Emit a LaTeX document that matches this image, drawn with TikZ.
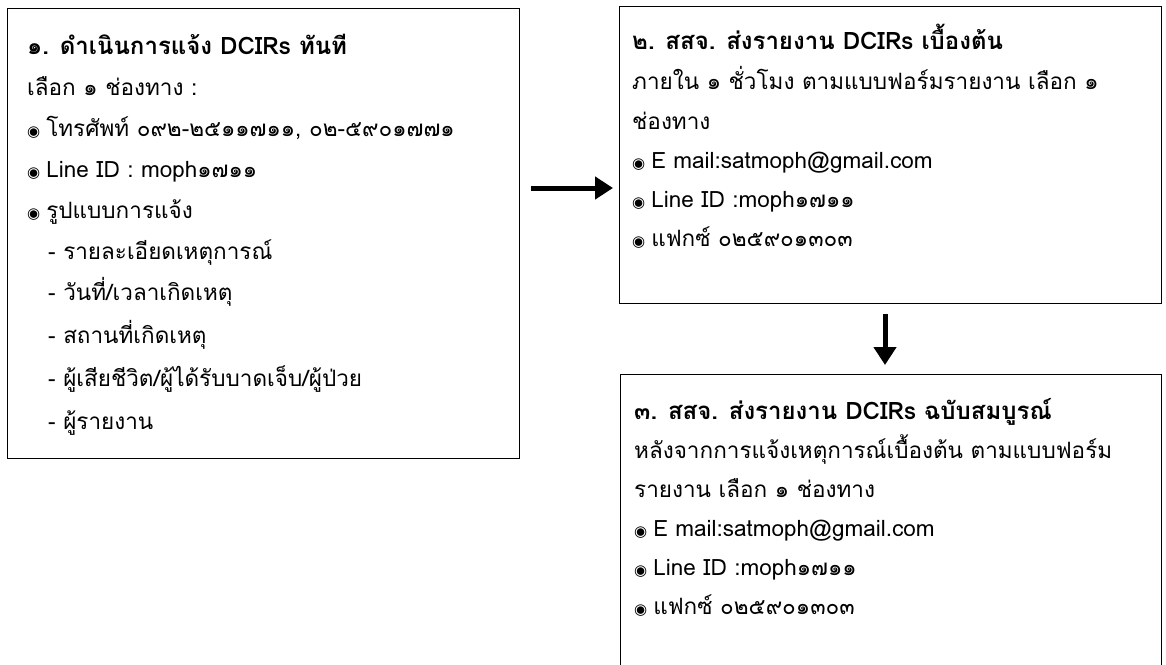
\documentclass[tikz,border=0pt]{standalone}
\usepackage{fontspec}
\newfontfamily\thaifont[Script=Thai]{Loma}
\newfontfamily\symfont{DejaVu Sans}
\usetikzlibrary{arrows.meta}
\newcommand{\bul}{{\symfont\fontsize{15}{15}\selectfont ◉}\hspace{6pt}}
\begin{document}
\begin{tikzpicture}[x=1pt,y=-1pt,
  box/.style={draw, line width=1.4pt, rectangle, inner sep=0pt, anchor=north west},
  txt/.style={anchor=base west, inner sep=0pt, font=\thaifont\fontsize{22.5}{26}\selectfont},
  ttl/.style={txt, font=\thaifont\bfseries\fontsize{24}{28}\selectfont},
  arr/.style={line width=5pt, -{Triangle[length=18pt,width=22pt]}}]
\clip (0,0) rectangle (1166,664);
\useasboundingbox (0,0) rectangle (1166,664);
% boxes
\node[box, minimum width=512pt, minimum height=450pt] (b1) at (7,8) {};
\node[box, minimum width=542pt, minimum height=297pt] (b2) at (619,6) {};
\node[box, minimum width=541pt, minimum height=320pt] (b3) at (620,374) {};
% box 1 text
\node[ttl] (t11) at (27,54) {๑. ดำเนินการแจ้ง DCIRs ทันที};
\node[txt] (t12) at (27,95) {เลือก ๑ ช่องทาง :};
\node[txt] (t13) at (27,136) {\bul โทรศัพท์ ๐๙๒-๒๕๑๑๗๑๑, ๐๒-๕๙๐๑๗๗๑};
\node[txt] (t14) at (27,177) {\bul Line ID : moph๑๗๑๑};
\node[txt] (t15) at (27,218) {\bul รูปแบบการแจ้ง};
\node[txt] (t16) at (48,259) {- รายละเอียดเหตุการณ์};
\node[txt] (t17) at (48,300) {- วันที่/เวลาเกิดเหตุ};
\node[txt] (t18) at (48,343) {- สถานที่เกิดเหตุ};
\node[txt] (t19) at (48,386) {- ผู้เสียชีวิต/ผู้ได้รับบาดเจ็บ/ผู้ป่วย};
\node[txt] (t110) at (48,429) {- ผู้รายงาน};
% box 2 text
\node[ttl] (t21) at (632,49) {๒. สสจ. ส่งรายงาน DCIRs เบื้องต้น};
\node[txt] (t22) at (632,89) {ภายใน ๑ ชั่วโมง ตามแบบฟอร์มรายงาน เลือก ๑};
\node[txt] (t23) at (632,129) {ช่องทาง};
\node[txt] (t24) at (632,168) {\bul E mail:satmoph@gmail.com};
\node[txt] (t25) at (632,207) {\bul Line ID :moph๑๗๑๑};
\node[txt] (t26) at (632,246) {\bul แฟกซ์ ๐๒๕๙๐๑๓๐๓};
% box 3 text
\node[ttl] (t31) at (634,419) {๓. สสจ. ส่งรายงาน DCIRs ฉบับสมบูรณ์};
\node[txt] (t32) at (634,458) {หลังจากการแจ้งเหตุการณ์เบื้องต้น ตามแบบฟอร์ม};
\node[txt] (t33) at (634,497) {รายงาน เลือก ๑ ช่องทาง};
\node[txt] (t34) at (634,536) {\bul E mail:satmoph@gmail.com};
\node[txt] (t35) at (634,575) {\bul Line ID :moph๑๗๑๑};
\node[txt] (t36) at (634,614) {\bul แฟกซ์ ๐๒๕๙๐๑๓๐๓};
% arrows
\coordinate (ay) at (0,188);
\coordinate (ax) at (885,0);
\draw[arr, shorten <=11pt, shorten >=6pt] (b1.east |- ay) -- (b2.west |- ay);
\draw[arr, shorten <=10pt, shorten >=9pt] (b2.south -| ax) -- (b3.north -| ax);
\end{tikzpicture}
\end{document}
